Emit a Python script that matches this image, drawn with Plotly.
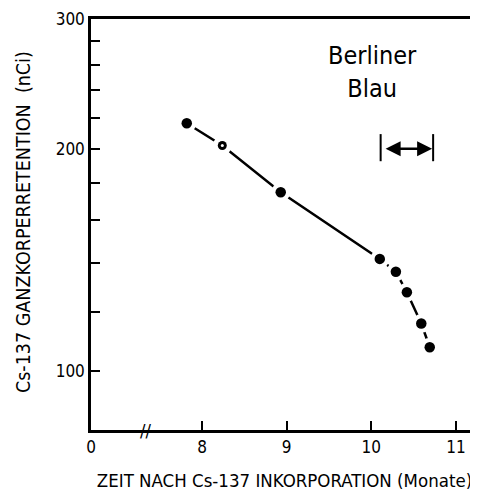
import math
import plotly.graph_objects as go

# Data
months = [7.82, 8.24, 8.93, 10.10, 10.29, 10.42, 10.59, 10.69]
retention = [216.6, 202.1, 174.6, 141.8, 136.2, 127.8, 115.9, 107.6]
hollow = [False, True, False, False, False, False, False, False]

x_tickvals = [6.689, 8, 9, 10, 11]
x_ticktext = ["0", "8", "9", "10", "11"]
y_tickvals = [100, 120, 140, 160, 180, 200, 220, 240, 260, 280, 300]
y_ticktext = ["100", "", "", "", "", "200", "", "", "", "", "300"]

arrow_x = [10.11, 10.73]
arrow_y = 200
bar_y = [192.4, 209.4]
break_x = 7.33
label_x = 10.01
label_y = 254

x_title = "ZEIT NACH Cs-137 INKORPORATION (Monate)"
y_title = "Cs-137 GANZKORPERRETENTION  (nCi)"

FONT = "Liberation Sans Narrow, DejaVu Sans Condensed, Arial Narrow, sans-serif"

fig = go.Figure()

# connecting line
fig.add_trace(go.Scatter(
    x=months, y=retention, mode="lines",
    line=dict(color="black", width=2.5),
    showlegend=False, hoverinfo="skip"))
# white halo to break the line around the points
fig.add_trace(go.Scatter(
    x=months, y=retention, mode="markers",
    marker=dict(color="white", size=19, line=dict(width=0)),
    showlegend=False, hoverinfo="skip"))
# points
fig.add_trace(go.Scatter(
    x=months, y=retention, mode="markers",
    marker=dict(color="black", size=[9 if h else 10.5 for h in hollow],
                opacity=1, line=dict(width=0)),
    showlegend=False, hoverinfo="skip"))
# hollow centre
fig.add_trace(go.Scatter(
    x=[m for m, h in zip(months, hollow) if h],
    y=[r for r, h in zip(retention, hollow) if h],
    mode="markers", marker=dict(color="white", size=3, line=dict(width=0)),
    showlegend=False, hoverinfo="skip"))

# end bars of the treatment interval
for bx in arrow_x:
    fig.add_trace(go.Scatter(x=[bx, bx], y=bar_y, mode="lines",
                             line=dict(color="black", width=2),
                             showlegend=False, hoverinfo="skip"))

# double arrow (annotation coords on a log axis are log10 values)
fig.add_annotation(x=arrow_x[1], y=math.log10(arrow_y),
                   ax=arrow_x[0], ay=math.log10(arrow_y),
                   xref="x", yref="y", axref="x", ayref="y",
                   showarrow=True, arrowhead=2, arrowside="end+start",
                   arrowsize=1.2, arrowwidth=2.5, arrowcolor="black",
                   standoff=1, startstandoff=1, text=" ")

fig.add_annotation(x=label_x, y=math.log10(label_y), xref="x", yref="y",
                   text="Berliner<br>Blau", showarrow=False,
                   font=dict(family=FONT, size=25, color="black"))

fig.add_annotation(x=break_x, y=0, xref="x", yref="paper",
                   text="//", showarrow=False, yshift=-13,
                   font=dict(family=FONT, size=18, color="black"))

# y-axis title
fig.add_annotation(x=-0.1757, y=0.506, xref="paper", yref="paper",
                   text=y_title, textangle=-90, showarrow=False,
                   xanchor="center", yanchor="middle",
                   font=dict(family=FONT, size=19.5, color="black"))

fig.update_layout(
    width=470, height=490,
    margin=dict(l=83, r=0, t=11, b=68),
    paper_bgcolor="white", plot_bgcolor="white",
    font=dict(family=FONT, color="black", size=17),
    xaxis=dict(range=[6.689, 11.26], tickvals=x_tickvals, ticktext=x_ticktext,
               showline=True, linecolor="black", linewidth=2.5, mirror=True,
               ticks="inside", ticklen=9, tickwidth=2, tickcolor="black",
               showgrid=False, zeroline=False,
               tickfont=dict(size=17),
               title=dict(text=x_title, font=dict(size=18.5), standoff=18)),
    yaxis=dict(type="log", range=[1.9196, 2.4771],
               tickvals=y_tickvals, ticktext=y_ticktext,
               showline=True, linecolor="black", linewidth=2.5, mirror=False,
               ticks="inside", ticklen=9, tickwidth=2, tickcolor="black",
               showgrid=False, zeroline=False,
               tickfont=dict(size=17)),
)

fig.write_html("out.html")
